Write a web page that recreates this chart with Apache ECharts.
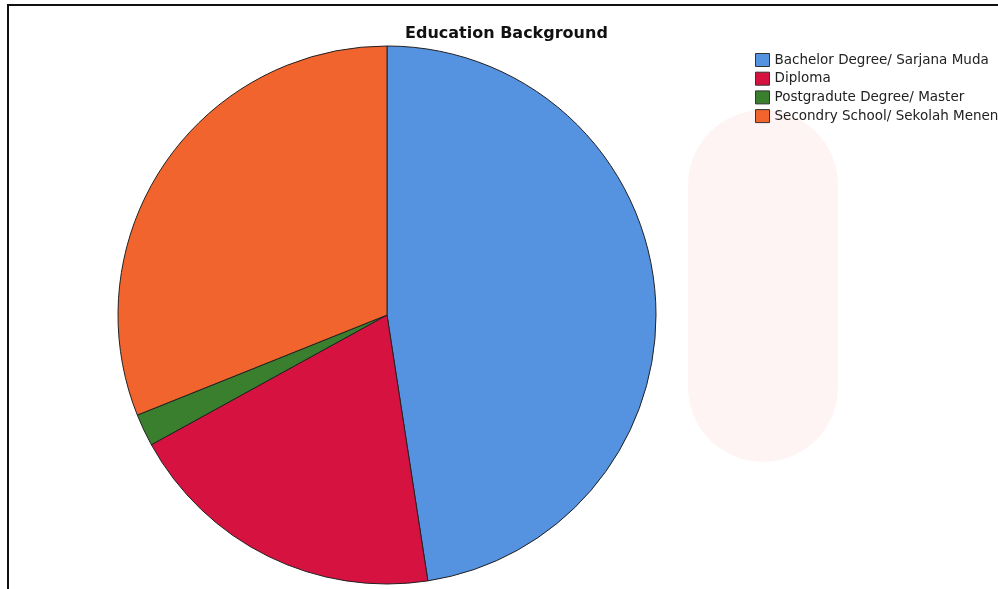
<!DOCTYPE html>
<html><head><meta charset="utf-8">
<script src="https://cdn.jsdelivr.net/npm/echarts@6/dist/echarts.min.js"></script>
<style>html,body{margin:0;padding:0;background:#fff}#c{width:998px;height:589px}</style>
</head><body><div id="c"></div>
<script>
const categories = ["Bachelor Degree/ Sarjana Muda", "Diploma", "Postgradute Degree/ Master", "Secondry School/ Sekolah Menengah"];
const counts = [49, 20, 2, 32];
const colors = ["#5592e0", "#d61240", "#3a7f2e", "#f2642d"];

const chart = echarts.init(document.getElementById('c'), null, {renderer: 'canvas'});
chart.setOption({
  animation: false,
  backgroundColor: '#fff',
  title: {
    text: 'Education Background',
    left: 400, top: 21,
    textStyle: {fontFamily: 'DejaVu Sans', fontSize: 16, fontWeight: 'bold', color: '#111'}
  },
  legend: {
    orient: 'vertical', left: 750, top: 48,
    itemWidth: 14, itemHeight: 13, itemGap: 4.7,
    icon: 'rect',
    itemStyle: {borderColor: '#333', borderWidth: 1},
    textStyle: {fontFamily: 'DejaVu Sans', fontSize: 13.5, lineHeight: 13, color: '#222'},
    data: categories
  },
  graphic: [{
    type: 'rect', shape: {x: 688, y: 110, width: 150, height: 352, r: 75},
    style: {fill: '#fff4f4'}, silent: true, z: -10
  }, {
    type: 'rect', shape: {x: 8, y: 5, width: 1100, height: 700},
    style: {fill: 'none', stroke: '#111', lineWidth: 2}, silent: true, z: 10
  }],
  series: [{
    type: 'pie',
    center: [387, 315], radius: 269,
    startAngle: 90, clockwise: true,
    label: {show: false}, labelLine: {show: false},
    itemStyle: {borderColor: '#222', borderWidth: 1},
    emphasis: {disabled: true},
    data: categories.map((c, i) => ({name: c, value: counts[i], itemStyle: {color: colors[i]}}))
  }]
});
</script></body></html>
